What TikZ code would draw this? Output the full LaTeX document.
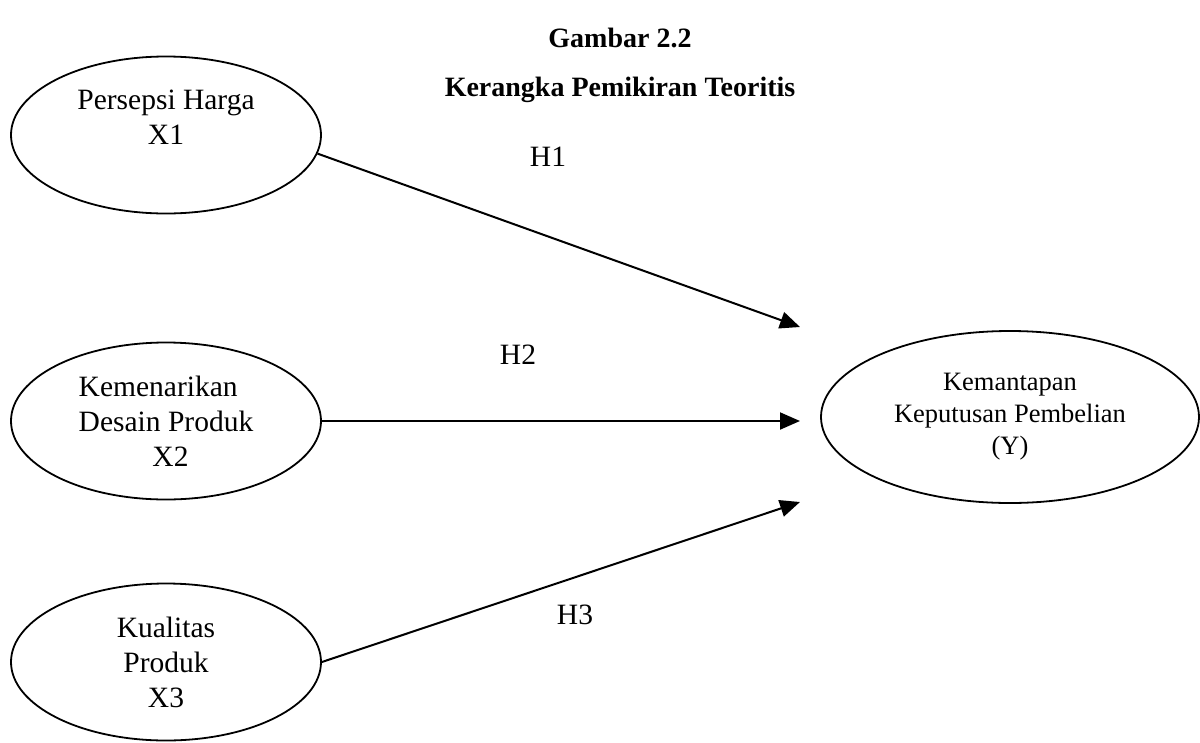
\documentclass[tikz,border=0pt]{standalone}
\usepackage{fontspec}
\setmainfont{Liberation Serif}
\usetikzlibrary{shapes.geometric,arrows.meta}

\begin{document}
\begin{tikzpicture}[x=1pt,y=-1pt,
  var/.style={ellipse,draw,line width=1.8pt,inner sep=0pt,
    minimum width=310pt,minimum height=157pt,align=center,
    font=\fontsize{29.5}{35}\selectfont},
  hyp/.style={line width=2pt,-{Triangle[length=20pt,width=17pt]}},
  lbl/.style={font=\fontsize{29.5}{35}\selectfont}]
\useasboundingbox (0,0) rectangle (1200,742);

\node[font=\bfseries\fontsize{28}{34}\selectfont] (judul) at (620,38) {Gambar 2.2};
\node[font=\bfseries\fontsize{28}{34}\selectfont] (subjudul) at (620,90) {Kerangka Pemikiran Teoritis};

\node[var] (x1) at (166,135) {Persepsi Harga\\X1\\\mbox{}};
\node[var,align=left] (x2) at (166,421) {Kemenarikan\\Desain Produk\\\hspace*{2.5em}X2};
\node[var] (x3) at (166,662) {Kualitas\\Produk\\X3};
\node[var,minimum width=378pt,minimum height=172pt,
  font=\fontsize{26.5}{32}\selectfont] (y) at (1010,417)
  {Kemantapan\\Keputusan Pembelian\\(Y)};

\coordinate (t1) at (800,327);
\coordinate (t2) at (800,421);
\coordinate (t3) at (800,502);

\draw[hyp] (x1.-7) -- (t1);
\draw[hyp] (x2.east) -- (t2);
\draw[hyp] (x3.east) -- (t3);

\foreach \n/\x/\y in {1/548/157, 2/518/355, 3/575/615}
  \node[lbl] (h\n) at (\x,\y) {H\n};
\end{tikzpicture}
\end{document}
